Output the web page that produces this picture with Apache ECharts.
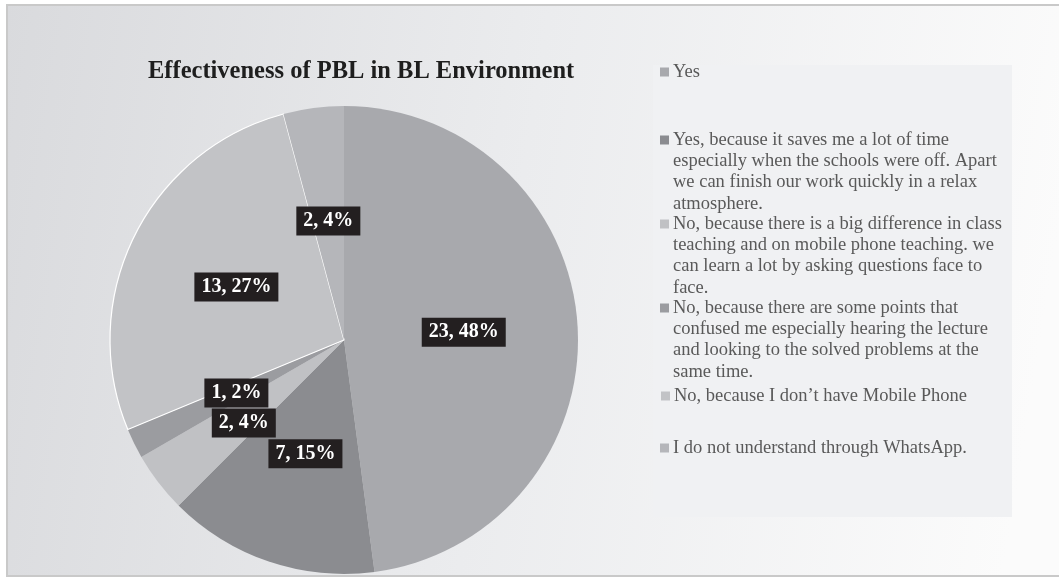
<!DOCTYPE html>
<html>
<head>
<meta charset="utf-8">
<script src="https://cdn.jsdelivr.net/npm/echarts@6/dist/echarts.min.js"></script>
<style>html,body{margin:0;padding:0;background:#fff;}#c{width:1059px;height:578px;}</style>
</head>
<body>
<div id="c"></div>
<script>
const titleText = 'Effectiveness of PBL in BL Environment';
const categories = [
  'Yes',
  'Yes, because it saves me a lot of time especially when the schools were off. Apart we can finish our work quickly in a relax atmosphere.',
  'No, because there is a big difference in class teaching and on mobile phone teaching. we can learn a lot by asking questions face to face.',
  'No, because there are some points that confused me especially hearing the lecture and looking to the solved problems at the same time.',
  'No, because I don\u2019t have Mobile Phone',
  'I do not understand through WhatsApp.'
];
const legendLines = [
  ['Yes'],
  ['Yes, because it saves me a lot of time', 'especially when the schools were off. Apart', 'we can finish our work quickly in a relax', 'atmosphere.'],
  ['No, because there is a big difference in class', 'teaching and on mobile phone teaching. we', 'can learn a lot by asking questions face to', 'face.'],
  ['No, because there are some points that', 'confused me especially hearing the lecture', 'and looking to the solved problems at the', 'same time.'],
  ['No, because I don\u2019t have Mobile Phone'],
  ['I do not understand through WhatsApp.']
];
const values = [23, 7, 2, 1, 13, 2];
const colors = ['#a8a9ad', '#8b8c90', '#c0c1c4', '#9b9ca0', '#c2c3c6', '#b5b6ba'];
const legendFirstLineY = [72, 140, 224, 308, 396, 448];

const LH = 21.3;
const serif = '"Liberation Serif", "Times New Roman", serif';

const data = categories.map((name, i) => {
  const d = { name: name, value: values[i], itemStyle: { color: colors[i] } };
  if (i === 4) { d.itemStyle.borderColor = '#ffffff'; d.itemStyle.borderWidth = 1.2; }
  if (i === 2) d.label = { offset: [-5, 10] };
  return d;
});

const legends = categories.map((name, i) => {
  const lines = legendLines[i];
  const rich = {
    sq: { width: 9, height: 9, backgroundColor: colors[i], verticalAlign: 'middle' },
    gap: { width: 4 },
    pad: { width: 13 },
    t: { fontFamily: serif, fontSize: 18.5, color: '#595959', lineHeight: LH }
  };
  return {
    data: [name],
    orient: 'vertical',
    left: 655,
    top: legendFirstLineY[i] - LH / 2,
    itemWidth: 0,
    itemHeight: 0,
    padding: 0,
    selectedMode: false,
    icon: 'rect',
    textStyle: { fontFamily: serif, fontSize: 18.5, color: '#595959', lineHeight: LH, rich: rich },
    formatter: function () {
      return lines.map((l, k) => (k === 0 ? '{sq|}{gap|}{t|' + l + '}' : '{pad|}{t|' + l + '}')).join('\n');
    }
  };
});

const chart = echarts.init(document.getElementById('c'), null, { renderer: 'canvas' });
chart.setOption({
  animation: false,
  backgroundColor: '#ffffff',
  graphic: [
    {
      type: 'rect', z: -10, silent: true,
      shape: { x: 7, y: 5, width: 1060, height: 571 },
      style: {
        fill: { type: 'linear', x: 0, y: 0, x2: 1, y2: 0.3, colorStops: [
          { offset: 0, color: '#d9dadd' }, { offset: 0.5, color: '#ebecee' }, { offset: 1, color: '#fbfbfb' }
        ] },
        stroke: '#c9c9c9', lineWidth: 2
      }
    },
    {
      type: 'rect', z: -9, silent: true,
      shape: { x: 653, y: 65, width: 359, height: 452 },
      style: { fill: '#f0f1f3' }
    }
  ],
  title: {
    text: titleText,
    left: 148,
    top: 59,
    padding: 0,
    textStyle: { fontFamily: serif, fontSize: 24.5, fontWeight: 'bold', color: '#1e1e1e' }
  },
  legend: legends,
  series: [{
    type: 'pie',
    center: [344, 340],
    radius: 234,
    startAngle: 90,
    clockwise: true,
    percentPrecision: 0,
    avoidLabelOverlap: false,
    label: {
      show: true,
      position: 'inside',
      formatter: '{c}, {d}%',
      color: '#ffffff',
      backgroundColor: '#231f20',
      fontFamily: serif,
      fontWeight: 'bold',
      fontSize: 20,
      padding: [5, 7, 4, 7]
    },
    labelLine: { show: false },
    emphasis: { disabled: true },
    data: data
  }]
});
</script>
</body>
</html>
